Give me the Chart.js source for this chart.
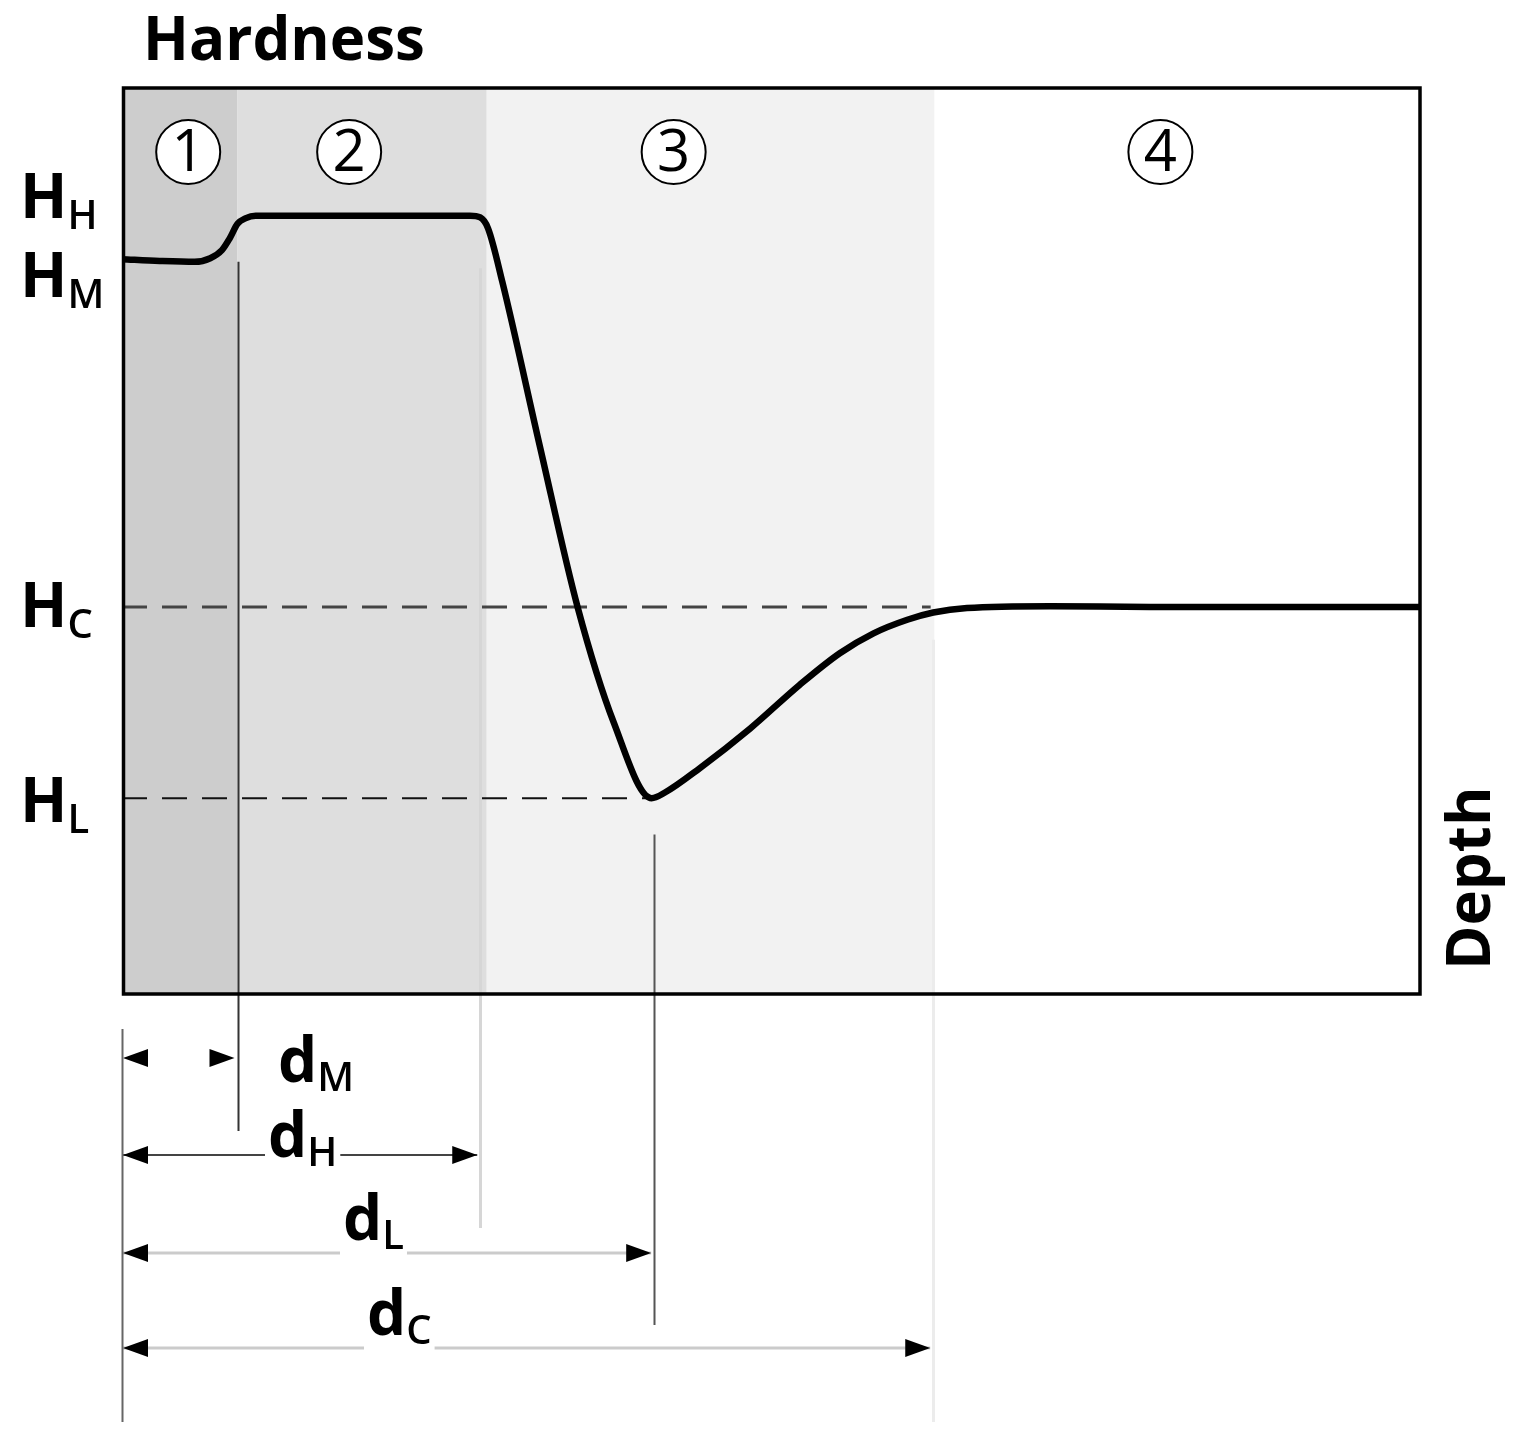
<!DOCTYPE html>
<html>
<head>
<meta charset="utf-8">
<title>Hardness vs Depth</title>
<script src="https://cdn.jsdelivr.net/npm/chart.js@4/dist/chart.umd.min.js"></script>
<style>
    html, body { margin: 0; padding: 0; background: #fff; }
    #wrap { width: 1519px; height: 1442px; }
</style>
</head>
<body>
<div id="wrap"><canvas id="chart" width="1519" height="1442"></canvas></div>
<script>

// Hardness profile (depth and hardness on a 0–100 scale)
const depth    = [ 0, 2.9, 5.6, 6.8, 7.7, 8.3, 8.9, 9.5, 10.3, 26.8, 27.6, 28.2, 29.3, 32.2, 35.1, 37.9, 40.8, 41.8, 44.5, 48.4, 52.2, 55.3, 57.9, 60.5, 62.5, 65.1, 71.5, 79.2, 100 ];
const hardness = [ 81.0, 80.8, 80.7, 81.1, 82.0, 83.3, 84.9, 85.5, 85.8, 85.8, 85.6, 84.4, 78.5, 60.3, 42.6, 29.8, 21.5, 22.1, 24.8, 29.2, 34.0, 37.5, 39.7, 41.2, 42.0, 42.5, 42.7, 42.6, 42.6 ];

// Characteristic hardness levels
const levelNames  = [ 'H', 'M', 'C', 'L' ];
const levelValues = [ 85.8, 80.7, 42.6, 21.5 ];

// Characteristic depths and zone limits
const depthNames  = [ 'M', 'H', 'L', 'C' ];
const depthValues = [ 8.9, 27.6, 41.0, 62.5 ];
const zoneEdges   = [ 0, 8.9, 28.1, 62.6, 100 ];
const zoneLabels  = [ '1', '2', '3', '4' ];
const zoneColors  = [ '#cdcdcd', '#dedede', '#f2f2f2', '#ffffff' ];

const FONT = '"Open Sans", "Noto Sans", sans-serif';

/**
 * Draws a filled arrow head with its tip at ( x, y ).
 */
function arrowHead ( ctx, x, y, dir ) {

    ctx.beginPath();
    ctx.moveTo( x, y );
    ctx.lineTo( x - dir * 25, y - 9 );
    ctx.lineTo( x - dir * 25, y + 9 );
    ctx.closePath();
    ctx.fill();

}

/**
 * Draws a letter with a subscript, returns the total width.
 */
function subText ( ctx, main, sub, x, y, mainSize, subSize, subDrop ) {

    ctx.textAlign = 'left';
    ctx.textBaseline = 'alphabetic';
    ctx.font = `bold ${mainSize}px ${FONT}`;
    ctx.fillText( main, x, y );
    const w = ctx.measureText( main ).width;
    ctx.font = `600 ${subSize}px ${FONT}`;
    ctx.fillText( sub, x + w, y + subDrop );

    return w + ctx.measureText( sub ).width;

}

const backdrop = {
    id: 'backdrop',
    beforeDatasetsDraw ( chart ) {

        const { ctx, chartArea: a, scales: { x, y } } = chart;

        ctx.save();

        // Zones
        zoneColors.forEach( ( c, i ) => {
            const x0 = x.getPixelForValue( zoneEdges[ i ] ),
                  x1 = x.getPixelForValue( zoneEdges[ i + 1 ] );
            ctx.fillStyle = c;
            ctx.fillRect( x0, a.top, x1 - x0, a.bottom - a.top );
        } );

        // Dashed reference levels
        ctx.setLineDash( [ 25, 15 ] );
        ctx.strokeStyle = '#444';
        ctx.lineWidth = 3;
        ctx.beginPath();
        ctx.moveTo( a.left, y.getPixelForValue( levelValues[ 2 ] ) );
        ctx.lineTo( x.getPixelForValue( 62.3 ), y.getPixelForValue( levelValues[ 2 ] ) );
        ctx.stroke();
        ctx.strokeStyle = '#111';
        ctx.lineWidth = 2;
        ctx.beginPath();
        ctx.moveTo( a.left, y.getPixelForValue( levelValues[ 3 ] ) );
        ctx.lineTo( x.getPixelForValue( depthValues[ 2 ] ), y.getPixelForValue( levelValues[ 3 ] ) );
        ctx.stroke();
        ctx.setLineDash( [] );

        // Depth markers: [ depth, top value, bottom pixel, colour, width ]
        const marks = [
            [ depthValues[ 0 ], levelValues[ 1 ], 1131, '#333', 2 ],
            [ depthValues[ 1 ], 80.0, 1228, '#d6d6d6', 3 ],
            [ depthValues[ 2 ], 17.5, 1325, '#555', 2 ],
            [ depthValues[ 3 ], 39.0, 1422, '#ececec', 3 ]
        ];
        marks.forEach( ( [ d, top, bottom, c, w ] ) => {
            const px = Math.round( x.getPixelForValue( d ) ) + 0.5;
            ctx.strokeStyle = c;
            ctx.lineWidth = w;
            ctx.beginPath();
            ctx.moveTo( px, y.getPixelForValue( top ) );
            ctx.lineTo( px, bottom );
            ctx.stroke();
        } );

        ctx.restore();

    },
    afterDatasetsDraw ( chart ) {

        const { ctx, chartArea: a, scales: { x, y } } = chart;

        ctx.save();

        // Frame
        ctx.strokeStyle = '#000';
        ctx.lineWidth = 3.5;
        ctx.strokeRect( a.left + 1.5, a.top + 1, a.right - a.left - 1.5, a.bottom - a.top );

        // Circled zone numbers
        const centres = [ 5.1, 17.5, 42.5, 80.0 ];
        zoneLabels.forEach( ( l, i ) => {
            const cx = x.getPixelForValue( centres[ i ] ), cy = 152;
            ctx.fillStyle = '#fff';
            ctx.strokeStyle = '#000';
            ctx.lineWidth = 2;
            ctx.beginPath();
            ctx.arc( cx, cy, 32, 0, Math.PI * 2 );
            ctx.fill();
            ctx.stroke();
            ctx.fillStyle = '#000';
            ctx.font = `400 58px ${FONT}`;
            ctx.textAlign = 'center';
            ctx.textBaseline = 'middle';
            ctx.fillText( l, cx, cy + 2 );
        } );

        ctx.restore();

    },
    afterDraw ( chart ) {

        const { ctx, chartArea: a, scales: { x, y } } = chart;

        ctx.save();
        ctx.fillStyle = '#000';

        // Axis titles
        ctx.font = `bold 60px ${FONT}`;
        ctx.textAlign = 'left';
        ctx.textBaseline = 'alphabetic';
        ctx.fillText( 'Hardness', 143, 60 );

        ctx.save();
        ctx.translate( 1490, 970 );
        ctx.rotate( -Math.PI / 2 );
        ctx.fillText( 'Depth', 0, 0 );
        ctx.restore();

        // Hardness level labels
        const drops = [ 2, 35, 20, 24 ];
        levelNames.forEach( ( n, i ) => {
            subText( ctx, 'H', n, 20, y.getPixelForValue( levelValues[ i ] ) + drops[ i ], 62, 40, 11 );
        } );

        // Depth dimension lines: [ line y, label x, label offset, line colour, line width ]
        const dims = [
            [ 1058, 278, 24, null, 0 ],
            [ 1155, 268, 2, '#444', 2 ],
            [ 1253, 343, -13, '#cbcbcb', 3 ],
            [ 1348, 367, -13, '#cbcbcb', 3 ]
        ];
        dims.forEach( ( [ ly, lx, off, c, w ], i ) => {

            const x0 = a.left, x1 = x.getPixelForValue( depthValues[ i ] ) - 3;

            if ( c ) {
                ctx.strokeStyle = c;
                ctx.lineWidth = w;
                ctx.beginPath();
                ctx.moveTo( x0, ly );
                ctx.lineTo( x1, ly );
                ctx.stroke();
            }

            ctx.fillStyle = '#000';
            arrowHead( ctx, x0 + 1, ly, -1 );
            arrowHead( ctx, x1, ly, 1 );

            // measure label, clear a gap in the line behind it
            ctx.font = `bold 62px ${FONT}`;
            let wd = ctx.measureText( 'd' ).width;
            ctx.font = `600 40px ${FONT}`;
            wd += ctx.measureText( depthNames[ i ] ).width;
            if ( c ) {
                ctx.fillStyle = '#fff';
                ctx.fillRect( lx - 3, ly - 4, wd + 6, 8 );
            }
            ctx.fillStyle = '#000';
            subText( ctx, 'd', depthNames[ i ], lx, ly + off, 62, 40, 9 );

        } );

        // left reference line below the frame
        ctx.strokeStyle = '#666';
        ctx.lineWidth = 2;
        ctx.beginPath();
        ctx.moveTo( a.left + 0.5, 1029 );
        ctx.lineTo( a.left + 0.5, 1422 );
        ctx.stroke();

        ctx.restore();

    }
};

new Chart( document.getElementById( 'chart' ), {
    type: 'line',
    data: {
        datasets: [ {
            data: depth.map( ( d, i ) => ( { x: d, y: hardness[ i ] } ) ),
            borderColor: '#000',
            borderWidth: 6.5,
            pointRadius: 0,
            fill: false,
            cubicInterpolationMode: 'monotone',
            borderCapStyle: 'round',
            borderJoinStyle: 'round'
        } ]
    },
    options: {
        responsive: false,
        animation: false,
        layout: { padding: { left: 122, right: 99, top: 87, bottom: 449 } },
        plugins: { legend: { display: false }, tooltip: { enabled: false } },
        scales: {
            x: { type: 'linear', min: 0, max: 100, display: false },
            y: { min: 0, max: 100, display: false }
        }
    },
    plugins: [ backdrop ]
} );

</script>
</body>
</html>
